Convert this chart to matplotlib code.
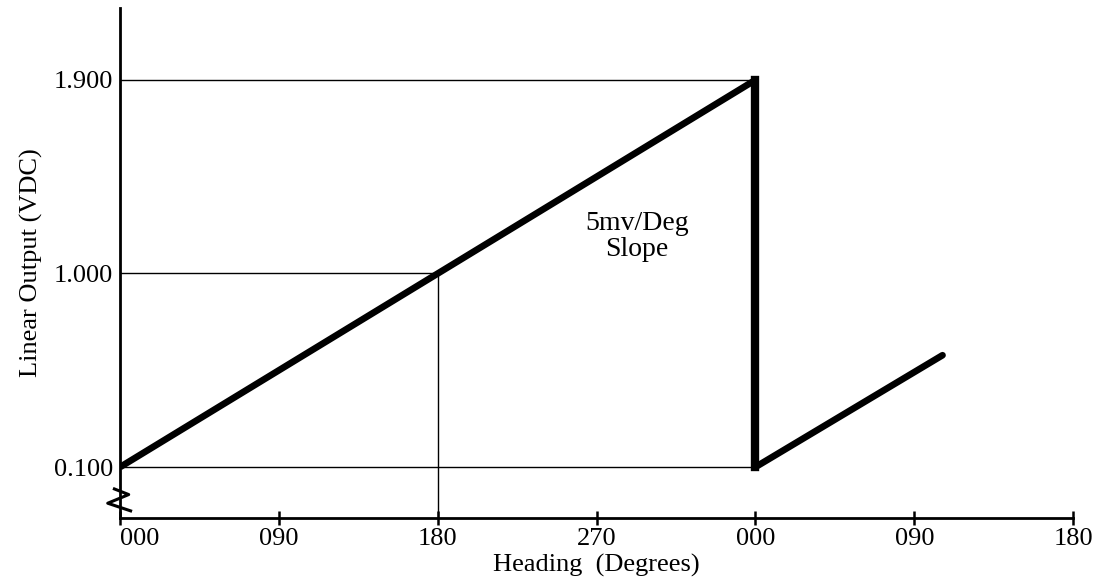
"""
Linear output vs heading: 5 mV/deg sawtooth, redrawn with matplotlib.
"""

import matplotlib
matplotlib.use("Agg")
import matplotlib.pyplot as plt

# ---- data ----
ramp1_heading = [0, 360]
ramp1_volts = [0.1, 1.9]
drop_heading = [360, 360]
drop_volts = [1.9, 0.1]
ramp2_heading = [360, 466]
ramp2_volts = [0.1, 0.62]

x_ticks = [0, 90, 180, 270, 360, 450, 540]
x_tick_labels = ["000", "090", "180", "270", "000", "090", "180"]
y_ticks = [0.1, 1.0, 1.9]
y_tick_labels = ["0.100", "1.000", "1.900"]

plt.rcParams["font.family"] = ["Liberation Serif", "DejaVu Serif"]

fig = plt.figure(figsize=(11.02, 5.85), dpi=100)
ax = fig.add_axes([0.109, 0.1145, 0.8648, 0.872])
ax.set_xlim(0, 540)
ax.set_ylim(-0.137, 2.235)

# thin guide lines
ax.hlines([1.9, 0.1], 0, 360, color="black", lw=1.0)
ax.hlines(1.0, 0, 180, color="black", lw=1.0)
ax.vlines(180, -0.137, 1.0, color="black", lw=1.0)

# output curve
ax.plot(ramp1_heading, ramp1_volts, color="black", lw=4.8, solid_capstyle="butt")
ax.plot(drop_heading, drop_volts, color="black", lw=6.0, solid_capstyle="projecting")
ax.plot(ramp2_heading, ramp2_volts, color="black", lw=4.8, solid_capstyle="round")

ax.text(293, 1.17, "5mv/Deg\nSlope", ha="center", va="center", fontsize=20,
        linespacing=1.05)

# axes styling
for side in ("top", "right"):
    ax.spines[side].set_visible(False)
for side in ("left", "bottom"):
    ax.spines[side].set_linewidth(2.0)

ax.set_xticks(x_ticks)
ax.set_xticklabels(x_tick_labels, fontsize=19)
ax.xaxis.get_majorticklabels()[0].set_horizontalalignment("left")
ax.tick_params(axis="x", direction="inout", length=10, width=1.8, pad=2)
ax.set_yticks(y_ticks)
ax.set_yticklabels(y_tick_labels, fontsize=19)
ax.tick_params(axis="y", length=0, pad=5)

ax.set_xlabel("Heading  (Degrees)", fontsize=19, labelpad=3)
ax.set_ylabel("Linear Output (VDC)", fontsize=19, labelpad=8)

# axis break mark on the y axis
zx = [-0.006, 0.009, -0.013, 0.011]
zy = [0.057, 0.046, 0.029, 0.014]
ax.plot(zx, zy, transform=ax.transAxes, color="black", lw=2.2, clip_on=False)

fig.savefig("out.png", dpi=100)
